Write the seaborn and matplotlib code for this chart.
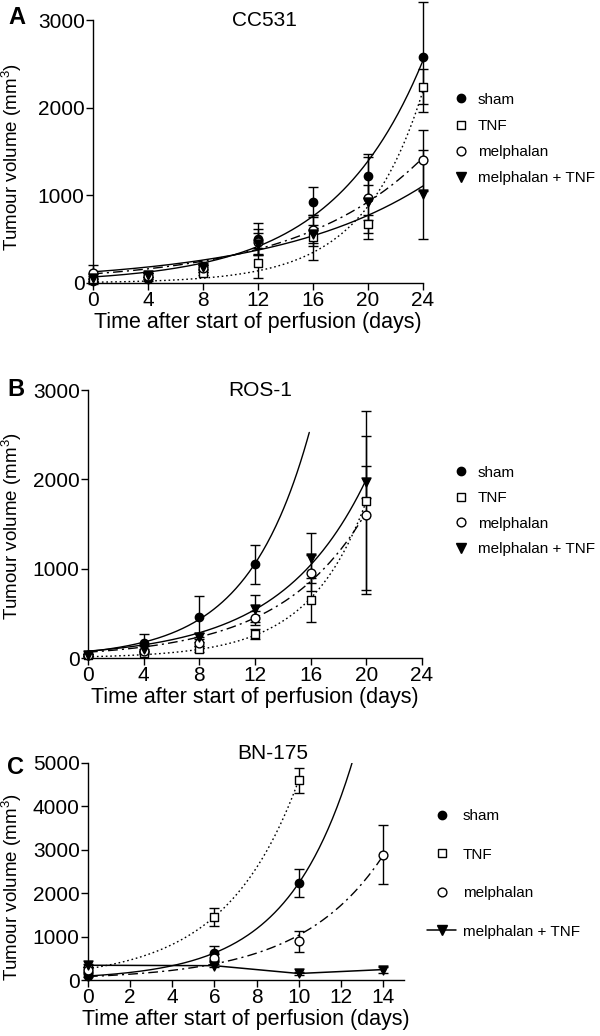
import numpy as np
import matplotlib
matplotlib.use('Agg')
from matplotlib import pyplot as plt
from matplotlib.lines import Line2D
import seaborn as sns

sns.set_style('ticks')
plt.rcParams['font.family'] = ['Liberation Sans', 'DejaVu Sans']
plt.rcParams['mathtext.fontset'] = 'custom'
plt.rcParams['mathtext.rm'] = 'Liberation Sans'
plt.rcParams['mathtext.it'] = 'Liberation Sans:italic'
plt.rcParams['text.color'] = 'black'
plt.rcParams['axes.labelcolor'] = 'black'
plt.rcParams['xtick.color'] = 'black'
plt.rcParams['ytick.color'] = 'black'

groups = ['sham', 'TNF', 'melphalan', 'melphalan + TNF']

# panel A: CC531
a_days = [0, 4, 8, 12, 16, 20, 24]
a_sham = [20, 45, 190, 500, 920, 1220, 2580]
a_sham_err = [30, 20, 30, 185, 170, 250, 630]
a_tnf = [40, 90, 110, 230, 520, 670, 2240]
a_tnf_err = [20, 20, 20, 170, 260, 100, 200]
a_mel = [110, 80, 170, 470, 600, 970, 1400]
a_mel_err = [100, 30, 40, 150, 180, 470, 345]
a_meltnf = [60, 90, 180, 450, 560, 920, 1010]
a_meltnf_err = [20, 20, 30, 120, 100, 200, 510]

# panel B: ROS-1
b_days = [0, 4, 8, 12, 16, 20]
b_sham = [30, 170, 460, 1050]
b_sham_err = [20, 95, 230, 220]
b_tnf = [30, 60, 100, 270, 650, 1760]
b_tnf_err = [10, 20, 30, 60, 250, 1000]
b_mel = [30, 80, 170, 450, 950, 1600]
b_mel_err = [10, 20, 40, 80, 200, 880]
b_meltnf = [30, 100, 230, 550, 1120, 1970]
b_meltnf_err = [10, 30, 50, 150, 280, 175]

# panel C: BN-175
c_days = [0, 6, 10, 14]
c_sham = [100, 620, 2230]
c_sham_err = [40, 170, 320]
c_tnf = [250, 1460, 4600]
c_tnf_err = [60, 210, 290]
c_mel = [230, 510, 890, 2890]
c_mel_err = [60, 80, 250, 680]
c_meltnf = [340, 330, 150, 240]
c_meltnf_err = [40, 30, 30, 70]

dotted = (0, (1.2, 2))
dashdot = (0, (7, 3, 1.5, 3))
styles = {
    'sham': dict(marker='o', fc='black', ls='-', s=36),
    'TNF': dict(marker='s', fc='white', ls=dotted, s=34),
    'melphalan': dict(marker='o', fc='white', ls=dashdot, s=40),
    'melphalan + TNF': dict(marker='v', fc='black', ls='-', s=42),
}


def fit_exp(t, y):
    # exponential growth fit, least squares on the raw volumes
    t = np.asarray(t, float)
    y = np.asarray(y, float)
    k, ln_a = np.polyfit(t, np.log(y), 1, w=np.sqrt(y))
    a = np.exp(ln_a)
    for _ in range(100):
        e = np.exp(k * t)
        r = y - a * e
        J = np.column_stack([e, a * t * e])
        step = np.linalg.lstsq(J, r, rcond=None)[0]
        a += 0.5 * step[0]
        k += 0.5 * step[1]
    return a, k


def draw_panel(ax, days, series, fit_ends, connect=()):
    for name, (vals, errs) in series.items():
        st = styles[name]
        t = np.asarray(days[:len(vals)], float)
        if name in connect:
            sns.lineplot(x=t, y=vals, ax=ax, color='black', lw=1.1, zorder=2)
        else:
            a, k = fit_exp(t, vals)
            tt = np.linspace(0, fit_ends[name], 200)
            sns.lineplot(x=tt, y=a * np.exp(k * tt), ax=ax, color='black',
                         lw=1.0, linestyle=st['ls'], zorder=2)
        ax.errorbar(t, vals, yerr=errs, fmt='none', ecolor='black',
                    elinewidth=1, capsize=3.5, capthick=1, zorder=3, clip_on=False)
        sns.scatterplot(x=t, y=vals, ax=ax, marker=st['marker'], s=st['s'],
                        color=st['fc'], edgecolor='black', linewidth=1,
                        zorder=4, clip_on=False)


def style_axes(ax, xmax, xstep, ymax, ystep, label_xy):
    ax.set_xlim(0, xmax)
    ax.set_ylim(0, ymax)
    ax.set_xticks(np.arange(0, xmax + 0.1, xstep))
    ax.set_yticks(np.arange(0, ymax + 1, ystep))
    sns.despine(ax=ax)
    for sp in ax.spines.values():
        sp.set_color('black')
        sp.set_linewidth(1)
    ax.tick_params(labelsize=15, length=5, width=1, pad=1)
    ax.set_xlabel('Time after start of perfusion (days)', fontsize=15.5, labelpad=1)
    ax.set_ylabel('Tumour volume (mm$^{3}$)', fontsize=13.5)
    ax.yaxis.set_label_coords(*label_xy)


def legend_handles(line_last=False):
    hs = []
    for name in groups:
        st = styles[name]
        ls = '-' if (line_last and name == 'melphalan + TNF') else 'none'
        hs.append(Line2D([], [], marker=st['marker'], color='black', mfc=st['fc'],
                         mec='black', ms=np.sqrt(st['s']), ls=ls, lw=1.1))
    return hs


fig = plt.figure(figsize=(6, 10.36), dpi=100)
H = 1036.0
W = 600.0

axA = fig.add_axes([93 / W, 1 - 283 / H, 330 / W, 263 / H])
draw_panel(axA, a_days, {
    'sham': (a_sham, a_sham_err),
    'TNF': (a_tnf, a_tnf_err),
    'melphalan': (a_mel, a_mel_err),
    'melphalan + TNF': (a_meltnf, a_meltnf_err),
}, {g: 24 for g in groups})
style_axes(axA, 24, 4, 3000, 1000, (-0.209, 0.479))
axA.text(0.52, 1.0, 'CC531', transform=axA.transAxes, ha='center', va='center', fontsize=15)
fig.text(8 / W, 1 - 18 / H, 'A', fontsize=17, fontweight='bold', va='center')

axB = fig.add_axes([88 / W, 1 - 658 / H, 334 / W, 268 / H])
draw_panel(axB, b_days, {
    'sham': (b_sham, b_sham_err),
    'TNF': (b_tnf, b_tnf_err),
    'melphalan': (b_mel, b_mel_err),
    'melphalan + TNF': (b_meltnf, b_meltnf_err),
}, {'sham': 15.9, 'TNF': 20, 'melphalan': 20, 'melphalan + TNF': 20})
style_axes(axB, 24, 4, 3000, 1000, (-0.192, 0.493))
axB.text(0.515, 1.0, 'ROS-1', transform=axB.transAxes, ha='center', va='center', fontsize=15)
fig.text(7 / W, 1 - 390 / H, 'B', fontsize=17, fontweight='bold', va='center')

axC = fig.add_axes([88 / W, 1 - 980 / H, 316 / W, 217 / H])
draw_panel(axC, c_days, {
    'sham': (c_sham, c_sham_err),
    'TNF': (c_tnf, c_tnf_err),
    'melphalan': (c_mel, c_mel_err),
    'melphalan + TNF': (c_meltnf, c_meltnf_err),
}, {'sham': 14, 'TNF': 10, 'melphalan': 14}, connect=('melphalan + TNF',))
style_axes(axC, 15, 2, 5000, 1000, (-0.203, 0.43))
axC.text(0.585, 1.045, 'BN-175', transform=axC.transAxes, ha='center', va='center', fontsize=15)
fig.text(7 / W, 1 - 767 / H, 'C', fontsize=17, fontweight='bold', va='center')

fig.legend(handles=legend_handles(), labels=groups, loc='center left',
           bbox_to_anchor=(452 / W, 1 - 139 / H), frameon=False, fontsize=11,
           handlelength=1.2, handletextpad=0.5, labelspacing=0.8,
           borderpad=0, borderaxespad=0)
fig.legend(handles=legend_handles(), labels=groups, loc='center left',
           bbox_to_anchor=(452 / W, 1 - 511 / H), frameon=False, fontsize=11,
           handlelength=1.2, handletextpad=0.5, labelspacing=0.75,
           borderpad=0, borderaxespad=0)
fig.legend(handles=legend_handles(line_last=True), labels=groups, loc='center left',
           bbox_to_anchor=(427 / W, 1 - 874 / H), frameon=False, fontsize=11,
           handlelength=1.9, handletextpad=0.45, labelspacing=1.6,
           borderpad=0, borderaxespad=0)

fig.savefig('out.png', dpi=100)
